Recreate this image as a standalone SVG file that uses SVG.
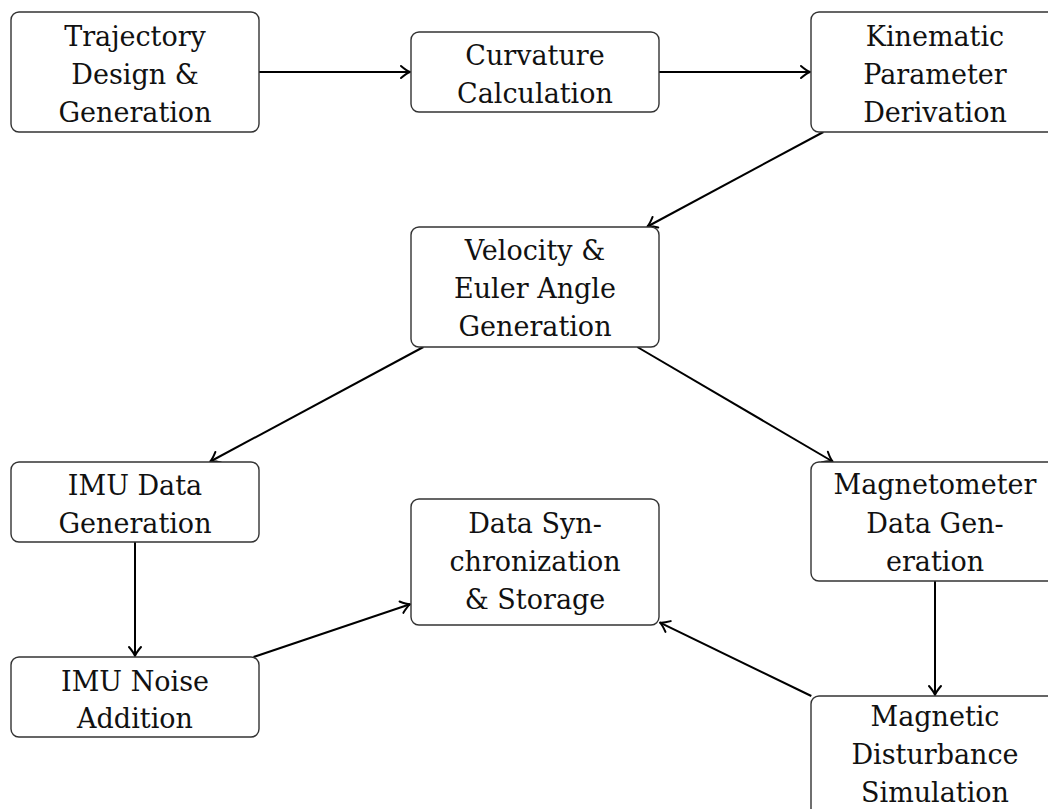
<svg xmlns="http://www.w3.org/2000/svg" width="1048" height="809" viewBox="0 0 1048 809">
<style>
.box{fill:#fff;stroke:#333;stroke-width:1.4}
.t{font-family:"DejaVu Serif","Liberation Serif","Noto Serif",serif;font-size:27px;fill:#111;text-anchor:middle}
.e{fill:none;stroke:#000;stroke-width:2;marker-end:url(#arr)}
</style>
<defs>
<marker id="arr" markerUnits="userSpaceOnUse" markerWidth="20" markerHeight="20" refX="0" refY="0" viewBox="-12 -10 14 20" orient="auto" overflow="visible">
<path d="M -9,-6 Q -3.5,-1.3 0,0 Q -3.5,1.3 -9,6" fill="none" stroke="#000" stroke-width="2" stroke-linecap="round" stroke-linejoin="round"/>
</marker>
</defs>
<rect width="1048" height="809" fill="#fff"/>
<g id="connectors">
<line class="e" x1="259" y1="72" x2="410" y2="72"/>
<line class="e" x1="659" y1="72" x2="810" y2="72"/>
<line class="e" x1="823.4" y1="132" x2="647.5" y2="226.5"/>
<line class="e" x1="423.4" y1="347" x2="210.3" y2="461.5"/>
<line class="e" x1="637.3" y1="347" x2="832.6" y2="461.5"/>
<line class="e" x1="135" y1="542" x2="135" y2="656"/>
<line class="e" x1="253.5" y1="657" x2="410" y2="604.3"/>
<line class="e" x1="935" y1="581" x2="935" y2="695"/>
<line class="e" x1="811.3" y1="696" x2="660" y2="622.6"/>
</g>
<g id="n1"><rect class="box" x="11" y="12" width="248" height="120" rx="8"/>
<text class="t" x="135" y="46">Trajectory</text><text class="t" x="135" y="84">Design &amp;</text><text class="t" x="135" y="122">Generation</text></g>
<g id="n2"><rect class="box" x="411" y="32" width="248" height="80" rx="8"/>
<text class="t" x="535" y="65">Curvature</text><text class="t" x="535" y="103">Calculation</text></g>
<g id="n3"><rect class="box" x="811" y="12" width="248" height="120" rx="8"/>
<text class="t" x="935" y="46">Kinematic</text><text class="t" x="935" y="84">Parameter</text><text class="t" x="935" y="122">Derivation</text></g>
<g id="n4"><rect class="box" x="411" y="227" width="248" height="120" rx="8"/>
<text class="t" x="535" y="260">Velocity &amp;</text><text class="t" x="535" y="298">Euler Angle</text><text class="t" x="535" y="336">Generation</text></g>
<g id="n5"><rect class="box" x="11" y="462" width="248" height="80" rx="8"/>
<text class="t" x="135" y="495">IMU Data</text><text class="t" x="135" y="533">Generation</text></g>
<g id="n6"><rect class="box" x="11" y="657" width="248" height="80" rx="8"/>
<text class="t" x="135" y="691">IMU Noise</text><text class="t" x="135" y="728">Addition</text></g>
<g id="n7"><rect class="box" x="411" y="499" width="248" height="126" rx="8"/>
<text class="t" x="535" y="533">Data Syn-</text><text class="t" x="535" y="571">chronization</text><text class="t" x="535" y="609">&amp; Storage</text></g>
<g id="n8"><rect class="box" x="811" y="462" width="248" height="119" rx="8"/>
<text class="t" x="935" y="494">Magnetometer</text><text class="t" x="935" y="533">Data Gen-</text><text class="t" x="935" y="571">eration</text></g>
<g id="n9"><rect class="box" x="811" y="696" width="248" height="126" rx="8"/>
<text class="t" x="935" y="726">Magnetic</text><text class="t" x="935" y="764">Disturbance</text><text class="t" x="935" y="802">Simulation</text></g>
</svg>
